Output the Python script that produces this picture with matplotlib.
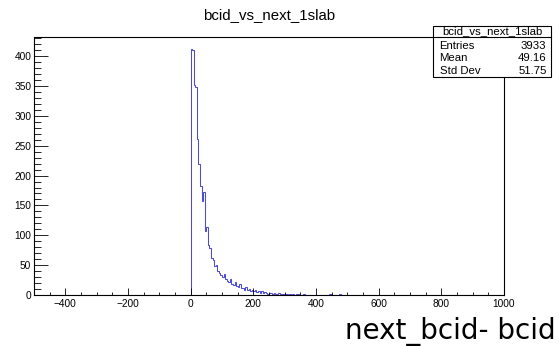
import numpy as np
import matplotlib.pyplot as plt
from matplotlib.patches import Rectangle
from matplotlib.lines import Line2D
from matplotlib.ticker import MultipleLocator

# histogram: 300 bins of width 5 from -500 to 1000, only bins >= 0 are filled
x_min, x_max, n_bins = -500, 1000, 300
first_bin_value = 0
counts = [412, 410, 352, 349, 262, 219, 183, 158, 172, 107,
          114, 84, 78, 62, 58, 48, 51, 40, 37, 33,
          30, 35, 27, 24, 22, 26, 19, 17, 21, 15,
          13, 18, 11, 12, 9, 13, 8, 10, 7, 9,
          6, 8, 5, 7, 4, 6, 3, 5, 4, 2,
          4, 3, 2, 3, 1, 2, 3, 1, 2, 1,
          2, 1, 0, 1, 0, 2, 0, 1, 1, 0,
          0, 0, 1, 0, 0, 0, 0, 0, 0, 0,
          0, 0, 0, 0, 0, 0, 0, 0, 1, 1,
          0, 0, 0, 0, 0, 1]

title = "bcid_vs_next_1slab"
xlabel = "next_bcid- bcid"
stat_names = ["Entries", "Mean", "Std Dev"]
stat_values = ["3933", "49.16", "51.75"]

edges = np.linspace(x_min, x_max, n_bins + 1)
h = np.zeros(n_bins)
start = int(round((first_bin_value - x_min) / (edges[1] - edges[0])))
h[start:start + len(counts)] = counts

W, H = 559, 346
fig = plt.figure(figsize=(W / 100, H / 100), dpi=100)
fig.patch.set_facecolor("white")
ax = fig.add_axes([34 / W, 1 - 295 / H, (504 - 34) / W, (295 - 36.7) / H])

ax.stairs(h, edges, color="#4c4cd4", lw=0.75)
ax.set_xlim(x_min, x_max)
ax.set_ylim(0, max(counts) * 1.05)

ax.xaxis.set_major_locator(MultipleLocator(200))
ax.xaxis.set_minor_locator(MultipleLocator(50))
ax.yaxis.set_major_locator(MultipleLocator(50))
ax.yaxis.set_minor_locator(MultipleLocator(10))
ax.tick_params(which="both", direction="in", top=False, right=False,
               labelsize=7.3, labelfontfamily="Liberation Sans", width=0.6)
ax.tick_params(axis="y", which="major", length=10, pad=2)
ax.tick_params(axis="y", which="minor", length=5)
ax.tick_params(axis="x", which="major", length=5, pad=3)
ax.tick_params(axis="x", which="minor", length=2.5)
for s in ax.spines.values():
    s.set_linewidth(0.8)

fig.text(269 / W, 1 - 15 / H, title, ha="center", va="center",
         family="Liberation Sans", fontsize=10.8)
fig.text(556 / W, 1 - 338.5 / H, xlabel, ha="right", va="baseline",
         family="DejaVu Sans", fontsize=20)

# stats box
bx0, bx1, by0, by1 = 433, 551, 26, 77
fig.patches.append(Rectangle((bx0 / W, 1 - by1 / H), (bx1 - bx0) / W, (by1 - by0) / H,
                             transform=fig.transFigure, facecolor="white",
                             edgecolor="black", lw=0.8, zorder=5))
fig.add_artist(Line2D([bx0 / W, bx1 / W], [1 - 36.7 / H] * 2,
                      color="black", lw=0.8, zorder=6))
fig.text((bx0 + bx1) / 2 / W, 1 - 31.5 / H, title, ha="center",
         va="center", family="Liberation Sans", fontsize=8.2, zorder=7)
for i, (name, val) in enumerate(zip(stat_names, stat_values)):
    y = 1 - (45.7 + 12.5 * i) / H
    fig.text(439.5 / W, y, name, ha="left", va="center",
             family="Liberation Sans", fontsize=8.2, zorder=7)
    fig.text(546.5 / W, y, val, ha="right", va="center",
             family="Liberation Sans", fontsize=8.2, zorder=7)

fig.savefig("out.png", dpi=100)
